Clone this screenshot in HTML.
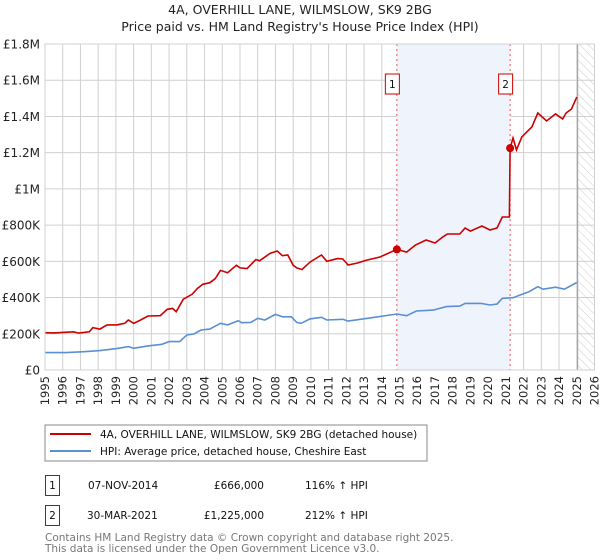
<!DOCTYPE html>
<html><head><meta charset="utf-8"><style>
body{margin:0;background:#fff;font-family:"DejaVu Sans","Liberation Sans",sans-serif;}
svg{display:block}
</style></head><body>
<svg id="chart" width="600" height="560" xmlns="http://www.w3.org/2000/svg">
<defs>
<pattern id="hatch" width="6" height="6" patternUnits="userSpaceOnUse" patternTransform="rotate(-45)">
<line x1="0" y1="0" x2="0" y2="6" stroke="#ccc" stroke-width="1"/></pattern>
<clipPath id="plotclip"><rect x="45" y="43" width="550" height="327"/></clipPath>
</defs>
<text x="300" y="14" text-anchor="middle" font-size="12.5" fill="#222">4A, OVERHILL LANE, WILMSLOW, SK9 2BG</text>
<text x="300" y="31" text-anchor="middle" font-size="12.5" fill="#222">Price paid vs. HM Land Registry's House Price Index (HPI)</text>
<g id="grid"></g>
<g id="regions"></g>
<g id="series" clip-path="url(#plotclip)"></g>
<g id="axes"></g>
<g>
<rect x="45" y="425" width="382" height="36" fill="#fff" stroke="#888"/>
<line x1="50" y1="434" x2="91" y2="434" stroke="#cc0000" stroke-width="2"/>
<text x="100" y="438" font-size="10.5" fill="#111">4A, OVERHILL LANE, WILMSLOW, SK9 2BG (detached house)</text>
<line x1="50" y1="451" x2="91" y2="451" stroke="#5b8fd4" stroke-width="2"/>
<text x="100" y="455" font-size="10.5" fill="#111">HPI: Average price, detached house, Cheshire East</text>
</g>
<g font-size="10.5" fill="#111">
<rect x="45.5" y="475.5" width="14" height="20" fill="#fff" stroke="#cc0000"/>
<text x="52.5" y="489" text-anchor="middle">1</text>
<text x="88" y="489">07-NOV-2014</text>
<text x="264" y="489" text-anchor="end">£666,000</text>
<text x="305" y="489">116% ↑ HPI</text>
<rect x="45.5" y="505.5" width="14" height="20" fill="#fff" stroke="#cc0000"/>
<text x="52.5" y="519" text-anchor="middle">2</text>
<text x="87" y="519">30-MAR-2021</text>
<text x="264" y="519" text-anchor="end">£1,225,000</text>
<text x="305" y="519">212% ↑ HPI</text>
</g>
<text x="45" y="541" font-size="10.5" fill="#777">Contains HM Land Registry data © Crown copyright and database right 2025.</text>
<text x="45" y="552" font-size="10.5" fill="#777">This data is licensed under the Open Government Licence v3.0.</text>
</svg>
<script>
const xYears=[1995,2026];
const yTicks=[0,200000,400000,600000,800000,1000000,1200000,1400000,1600000,1800000];
const yTickLabels=["£0","£200K","£400K","£600K","£800K","£1M","£1.2M","£1.4M","£1.6M","£1.8M"];
const priceYears=[1995.0,1995.5,1996.6,1996.9,1997.5,1997.7,1998.1,1998.5,1999.04,1999.5,1999.7,2000.0,2000.4,2000.8,2001.5,2001.9,2002.2,2002.4,2002.8,2003.3,2003.6,2003.9,2004.3,2004.6,2004.9,2005.3,2005.8,2006.0,2006.4,2006.9,2007.1,2007.7,2008.1,2008.4,2008.7,2009.0,2009.2,2009.5,2009.95,2010.6,2010.9,2011.5,2011.8,2012.1,2012.6,2013.15,2013.9,2014.85,2015.4,2015.9,2016.5,2017.0,2017.45,2017.7,2018.4,2018.7,2019.0,2019.65,2020.1,2020.5,2020.8,2021.2,2021.24,2021.4,2021.6,2021.9,2022.47,2022.8,2023.3,2023.8,2024.2,2024.4,2024.7,2025.0];
const priceValues=[206000,205000,211000,204000,211000,234000,226000,249000,249000,258000,276000,258000,276000,298000,300000,335000,340000,322000,391000,418000,450000,473000,482000,504000,550000,537000,578000,564000,560000,610000,603000,644000,657000,631000,635000,578000,564000,555000,596000,635000,600000,615000,613000,580000,590000,607000,624000,666000,651000,690000,718000,701000,735000,751000,751000,784000,767000,795000,773000,784000,845000,845000,1225000,1281000,1215000,1287000,1342000,1419000,1375000,1414000,1386000,1419000,1441000,1507000];
const hpiYears=[1995.0,1996.2,1997.2,1998.1,1999.04,1999.7,2000.0,2000.8,2001.6,2002.0,2002.6,2003.0,2003.4,2003.8,2004.3,2004.9,2005.3,2005.9,2006.1,2006.6,2007.0,2007.4,2008.0,2008.4,2008.9,2009.2,2009.45,2009.95,2010.6,2010.9,2011.8,2012.1,2013.15,2014.85,2015.4,2015.95,2016.9,2017.65,2018.4,2018.7,2019.6,2020.1,2020.5,2020.8,2021.4,2021.8,2022.3,2022.8,2023.1,2023.8,2024.3,2025.0];
const hpiValues=[96000,96000,101000,107000,118000,129000,120000,133000,142000,157000,157000,193000,199000,221000,226000,258000,249000,272000,261000,263000,285000,276000,307000,294000,294000,263000,258000,282000,291000,276000,280000,270000,285000,309000,300000,326000,331000,350000,353000,368000,368000,359000,364000,396000,399000,414000,432000,460000,446000,457000,446000,483000];
const saleYears=[2014.85,2021.24];
const saleValues=[666000,1225000];
const saleLabels=["1","2"];
const dataEndYear=2025.05;

const X0=45,X1=594.5,Y0=370,Y1=44;
const sx=y=>X0+(y-xYears[0])/(xYears[1]-xYears[0])*(X1-X0);
const sy=v=>Y0-v/1800000*(Y0-Y1);
const NS="http://www.w3.org/2000/svg";
function mk(tag,attrs,parent,txt){const e=document.createElementNS(NS,tag);for(const k in attrs)e.setAttribute(k,attrs[k]);if(txt!==undefined)e.textContent=txt;parent.appendChild(e);return e;}
const grid=document.getElementById('grid'),axes=document.getElementById('axes'),reg=document.getElementById('regions'),ser=document.getElementById('series');
// regions
let r=mk('rect',{x:sx(saleYears[0]),y:Y1,width:sx(saleYears[1])-sx(saleYears[0]),height:Y0-Y1,fill:'#eef3fc'},reg);


r=mk('rect',{x:sx(dataEndYear),y:Y1,width:X1-sx(dataEndYear),height:Y0-Y1,fill:'url(#hatch)'},reg);


// grid
for(let yr=xYears[0];yr<=xYears[1];yr++){
 const x=sx(yr);
 let l=mk('line',{x1:x,x2:x,y1:Y1,y2:Y0,stroke:'#d0d0d0','stroke-width':1},grid);
 
 
 let t=mk('text',{x:x+4,y:Y0+6,'font-size':11.5,fill:'#222','text-anchor':'end',transform:`rotate(-90 ${x+4} ${Y0+6})`},axes,String(yr));
 
 
}
yTicks.forEach((v,i)=>{
 const y=sy(v);
 let l=mk('line',{x1:X0,x2:X1,y1:y,y2:y,stroke:'#d0d0d0','stroke-width':1},grid);
 
 
 let t=mk('text',{x:X0-5,y:y+4.5,'font-size':12,fill:'#222','text-anchor':'end'},axes,yTickLabels[i]);
 
 
});
let b=mk('rect',{x:X0,y:Y1,width:X1-X0,height:Y0-Y1,fill:'none',stroke:'#d0d0d0'},axes);


let el=mk('line',{x1:sx(dataEndYear),x2:sx(dataEndYear),y1:Y1,y2:Y0,stroke:'#999','stroke-width':1},reg);


// sale vlines
saleYears.forEach((yr,i)=>{
 const x=sx(yr);
 let l=mk('line',{x1:x,x2:x,y1:Y1,y2:Y0,stroke:'#ee5555','stroke-width':1,'stroke-dasharray':'2,3'},reg);
 
 
 let bx=mk('rect',{x:x-11.5,y:74,width:14,height:20,fill:'#fff',stroke:'#cc0000'},axes);
 
 
 let t=mk('text',{x:x-4.5,y:88,'font-size':10.5,fill:'#111','text-anchor':'middle'},axes,saleLabels[i]);
 
 
});
function path(xs,vs){return xs.map((y,i)=>(i?'L':'M')+sx(y).toFixed(1)+','+sy(vs[i]).toFixed(1)).join('');}
let hp=mk('path',{d:path(hpiYears,hpiValues),fill:'none',stroke:'#5b8fd4','stroke-width':1.6},ser);


let pp=mk('path',{d:path(priceYears,priceValues),fill:'none',stroke:'#cc0000','stroke-width':1.6},ser);


saleYears.forEach((yr,i)=>{
 let c=mk('circle',{cx:sx(yr),cy:sy(saleValues[i]),r:4,fill:'#cc0000'},ser);
 
 
});
</script>
</body></html>
